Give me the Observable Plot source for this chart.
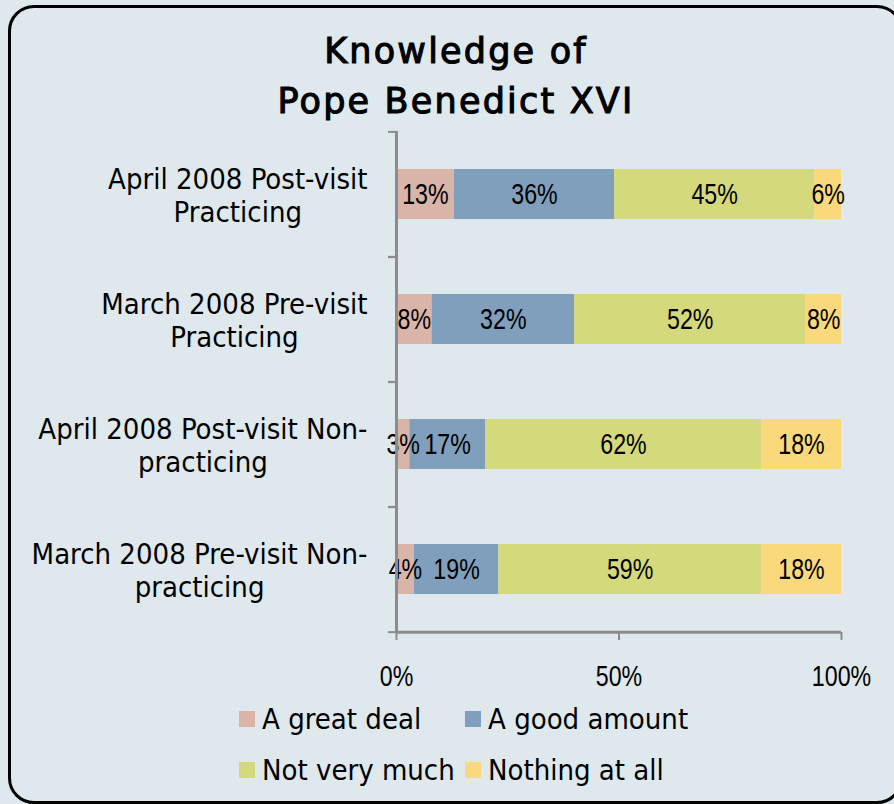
<!DOCTYPE html>
<html>
<head>
<meta charset="utf-8">
<script src="https://cdn.jsdelivr.net/npm/d3@7"></script>
<script src="https://cdn.jsdelivr.net/npm/@observablehq/plot@0.6"></script>
<style>
  html, body { margin: 0; padding: 0; background: #dee8ed; width: 894px; height: 804px; overflow: hidden; }
  #frame { position: absolute; left: 8px; top: 5px; width: 895px; height: 799px; box-sizing: border-box;
           border: 3px solid #000; border-radius: 26px; }
  #title { position: absolute; left: 0; width: 912px; top: 26px; text-align: center; letter-spacing: 2.2px;
           font-family: "DejaVu Sans", sans-serif; font-weight: normal; -webkit-text-stroke: 1.1px #000;
           font-size: 35px; line-height: 50px; color: #000; }
  #chart { position: absolute; left: 0; top: 0; }
  #legend { position: absolute; left: 239px; top: 704px; display: grid; grid-template-columns: 226px 226px;
            row-gap: 21px; font-family: "DejaVu Sans Condensed", "DejaVu Sans", sans-serif; font-size: 29px; color: #000; }
  .item { display: flex; align-items: center; height: 30px; white-space: nowrap; }
  .sw { width: 16px; height: 16px; margin-right: 7px; flex: none; }
</style>
</head>
<body>
<div id="frame"></div>
<div id="title">Knowledge of<br>Pope Benedict XVI</div>
<div id="chart"></div>
<div id="legend"></div>
<script>
const categories = [
  "April 2008 Post-visit Practicing",
  "March 2008 Pre-visit Practicing",
  "April 2008 Post-visit Non-practicing",
  "March 2008 Pre-visit Non-practicing"
];
const categoryLabels = [
  "April 2008 Post-visit\nPracticing",
  "March 2008 Pre-visit\nPracticing",
  "April 2008 Post-visit Non-\npracticing",
  "March 2008 Pre-visit Non-\npracticing"
];
const responses = ["A great deal", "A good amount", "Not very much", "Nothing at all"];
const colors = ["#d9b4a9", "#7f9fbd", "#d4da7b", "#fad87c"];
const greatDeal   = [13, 8, 3, 4];
const goodAmount  = [36, 32, 17, 19];
const notVeryMuch = [45, 52, 62, 59];
const nothingAtAll = [6, 8, 18, 18];
const xTicks = [0, 50, 100];

const series = [greatDeal, goodAmount, notVeryMuch, nothingAtAll];
const data = [];
categories.forEach((c, i) => {
  responses.forEach((r, j) => data.push({cat: c, resp: r, value: series[j][i]}));
});
const labelOf = new Map(categories.map((c, i) => [c, categoryLabels[i]]));

const W = 894, H = 700, mTop = 131, mBottom = 68, mLeft = 396, mRight = 53;
const step = (H - mTop - mBottom) / categories.length;
const labelFont = "'DejaVu Sans Condensed', 'DejaVu Sans', sans-serif";
const labelSize = 29;
const numFont = "'Liberation Sans', Arial, sans-serif";
const axisGray = "#8c8c8c";
const labelGap = 29;

// measure label lines so that the block is right-aligned while lines are centered
const ctx = document.createElement("canvas").getContext("2d");
ctx.font = `${labelSize}px ${labelFont}`;
const blockWidth = c => d3.max(labelOf.get(c).split("\n"), s => ctx.measureText(s).width);

const labelAxes = categories.map(c => Plot.axisY({
  ticks: [c], tickSize: 0, tickPadding: 0, textAnchor: "middle",
  dx: -(labelGap + blockWidth(c) / 2), lineHeight: 33 / labelSize,
  tickFormat: d => labelOf.get(d), label: null, fill: "#000"
}));

const chart = Plot.plot({
  width: W, height: H,
  marginTop: mTop, marginBottom: mBottom, marginLeft: mLeft, marginRight: mRight,
  style: {background: "transparent", fontFamily: labelFont, fontSize: labelSize + "px", color: "#000", overflow: "visible"},
  x: {domain: [0, 100]},
  y: {domain: categories, paddingInner: 0.6, paddingOuter: 0.3},
  color: {domain: responses, range: colors},
  marks: [
    Plot.barX(data, Plot.stackX({x: "value", y: "cat", fill: "resp"})),
    Plot.text(data, Plot.stackX({x: "value", y: "cat", z: "resp", text: d => d.value + "%",
      fontFamily: numFont, fontSize: 29, fill: "#000"})),
    Plot.ruleX([0], {stroke: axisGray, strokeWidth: 3}),
    Plot.ruleY([categories[categories.length - 1]], {x1: 0, x2: 100, dy: step / 2, stroke: axisGray, strokeWidth: 3}),
    Plot.axisY({tickSize: 8, tickFormat: () => "", dy: -step / 2, stroke: axisGray, strokeWidth: 2, label: null}),
    Plot.axisY({tickSize: 8, tickFormat: () => "", dy: step / 2, stroke: axisGray, strokeWidth: 2, label: null}),
    ...labelAxes,
    Plot.axisX({ticks: xTicks, tickSize: 8, tickPadding: 25, stroke: axisGray, strokeWidth: 2,
      tickFormat: d => d + "%", fontFamily: numFont, fontSize: 29, label: null, fill: "#000"})
  ]
});

// narrow the numeric labels horizontally (condensed look of the original)
function condense(sel, k) {
  d3.select(chart).selectAll(sel).each(function() {
    const el = this;
    let t = el.getAttribute("transform") || "";
    const xa = el.getAttribute("x");
    if (xa !== null && !isNaN(+xa)) {
      el.removeAttribute("x");
      t = `translate(${+xa},0) ` + t;
    }
    const ya = el.getAttribute("y");
    if (ya !== null && !isNaN(+ya)) {
      el.removeAttribute("y");
      t = `translate(0,${+ya}) ` + t;
    }
    el.setAttribute("transform", t + ` scale(${k},1)`);
  });
}
condense('g[aria-label="text"] text', 0.8);
condense('g[aria-label="x-axis tick label"] text', 0.8);

document.getElementById("chart").appendChild(chart);

const legend = document.getElementById("legend");
responses.forEach((r, i) => {
  const item = document.createElement("div");
  item.className = "item";
  const sw = document.createElement("span");
  sw.className = "sw";
  sw.style.background = colors[i];
  const t = document.createElement("span");
  t.textContent = r;
  item.appendChild(sw);
  item.appendChild(t);
  legend.appendChild(item);
});
</script>
</body>
</html>
